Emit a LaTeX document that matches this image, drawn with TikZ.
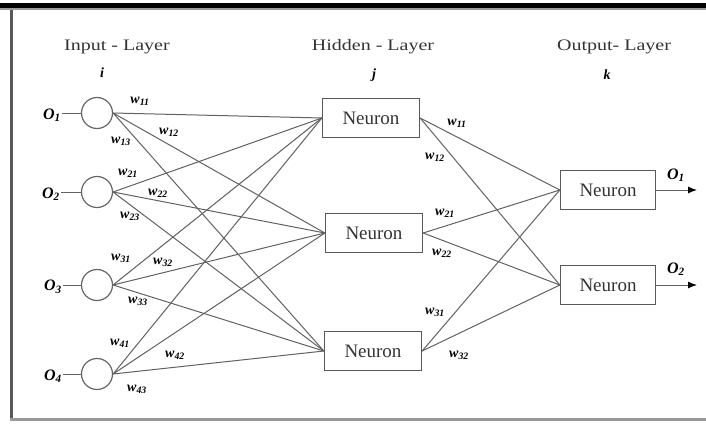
\documentclass[tikz,border=0pt]{standalone}
\usepackage{fontspec}
\setmainfont{Liberation Serif}
\newfontfamily\titlefont[FakeStretch=1.25]{Liberation Serif}
\usetikzlibrary{arrows.meta}
\begin{document}
\begin{tikzpicture}[x=1pt,y=-1pt,
  wire/.style={draw=black!62, line width=1pt},
  inneuron/.style={circle, draw=black!60, line width=1.2pt, minimum size=31pt, inner sep=0pt},
  neuronbox/.style={draw=black!65, line width=1.3pt, minimum width=97pt, minimum height=39pt, inner sep=0pt, font=\fontsize{19}{19}\selectfont, text=black!80},
  titletext/.style={font=\titlefont\fontsize{16}{16}\selectfont, text=black!80},
  idx/.style={font=\bfseries\itshape\fontsize{14}{14}\selectfont},
  olabel/.style={font=\bfseries\itshape\fontsize{16}{16}\selectfont, inner sep=1pt},
  wlabel/.style={font=\bfseries\itshape\fontsize{14}{14}\selectfont, inner sep=0pt},
  outarrow/.style={wire, -{Latex[length=9pt,width=7pt,fill=black,color=black]}},
]
\useasboundingbox (0,0) rectangle (706,423);
% frame
\fill[black] (0,3) rectangle (706,8);
\fill[black!40] (0,8) rectangle (706,10);
\fill[black!65] (10,10) rectangle (12.5,421);
\fill[black!40] (10,418) rectangle (706,421);

% titles
\node[titletext] (t1) at (117,47) {Input - Layer};
\node[titletext] (t2) at (373,47) {Hidden - Layer};
\node[titletext] (t3) at (614,47) {Output- Layer};
\node[idx] (li) at (102,73) {i};
\node[idx] (lj) at (374,75) {j};
\node[idx] (lk) at (607,75) {k};

% input neurons
\node[inneuron] (in1) at (97,113) {};
\node[inneuron] (in2) at (97,192) {};
\node[inneuron] (in3) at (97,285) {};
\node[inneuron] (in4) at (97,374) {};
\node[olabel] (ol1) at (52,115) {O\textsubscript{1}};
\node[olabel] (ol2) at (51,194) {O\textsubscript{2}};
\node[olabel] (ol3) at (53,287) {O\textsubscript{3}};
\node[olabel] (ol4) at (53,376) {O\textsubscript{4}};
\foreach \i in {1,...,4} \draw[wire] (ol\i.east |- in\i.west) -- (in\i.west);

% hidden neurons
\node[neuronbox] (h1) at (371,118) {Neuron};
\node[neuronbox] (h2) at (374,233) {Neuron};
\node[neuronbox] (h3) at (373,351) {Neuron};

% output neurons
\node[neuronbox, minimum width=95pt] (o1) at (608,190) {Neuron};
\node[neuronbox, minimum width=95pt] (o2) at (608,285) {Neuron};
\coordinate (end1) at (697,190);
\coordinate (end2) at (697,285);

% connections
\foreach \i in {1,...,4} \foreach \j in {1,2,3} \draw[wire] (in\i.east) -- (h\j.west);
\foreach \j in {1,2,3} \foreach \k in {1,2} \draw[wire] (h\j.east) -- (o\k.west);
\draw[outarrow] (o1.east) -- (end1);
\draw[outarrow] (o2.east) -- (end2);
\node[olabel] (oo1) at (676,175) {O\textsubscript{1}};
\node[olabel] (oo2) at (676,269) {O\textsubscript{2}};

% input weights
\node[wlabel] (w11) at (140,101) {w\textsubscript{11}};
\node[wlabel] (w12) at (169,132) {w\textsubscript{12}};
\node[wlabel] (w13) at (121,141) {w\textsubscript{13}};
\node[wlabel] (w21) at (128,173) {w\textsubscript{21}};
\node[wlabel] (w22) at (158,193) {w\textsubscript{22}};
\node[wlabel] (w23) at (130,216) {w\textsubscript{23}};
\node[wlabel] (w31) at (121,258) {w\textsubscript{31}};
\node[wlabel] (w32) at (163,262) {w\textsubscript{32}};
\node[wlabel] (w33) at (138,301) {w\textsubscript{33}};
\node[wlabel] (w41) at (120,343) {w\textsubscript{41}};
\node[wlabel] (w42) at (175,355) {w\textsubscript{42}};
\node[wlabel] (w43) at (137,389) {w\textsubscript{43}};

% hidden weights
\node[wlabel] (v11) at (457,123) {w\textsubscript{11}};
\node[wlabel] (v12) at (435,157) {w\textsubscript{12}};
\node[wlabel] (v21) at (445,213) {w\textsubscript{21}};
\node[wlabel] (v22) at (442,253) {w\textsubscript{22}};
\node[wlabel] (v31) at (435,312) {w\textsubscript{31}};
\node[wlabel] (v32) at (459,355) {w\textsubscript{32}};
\end{tikzpicture}
\end{document}
